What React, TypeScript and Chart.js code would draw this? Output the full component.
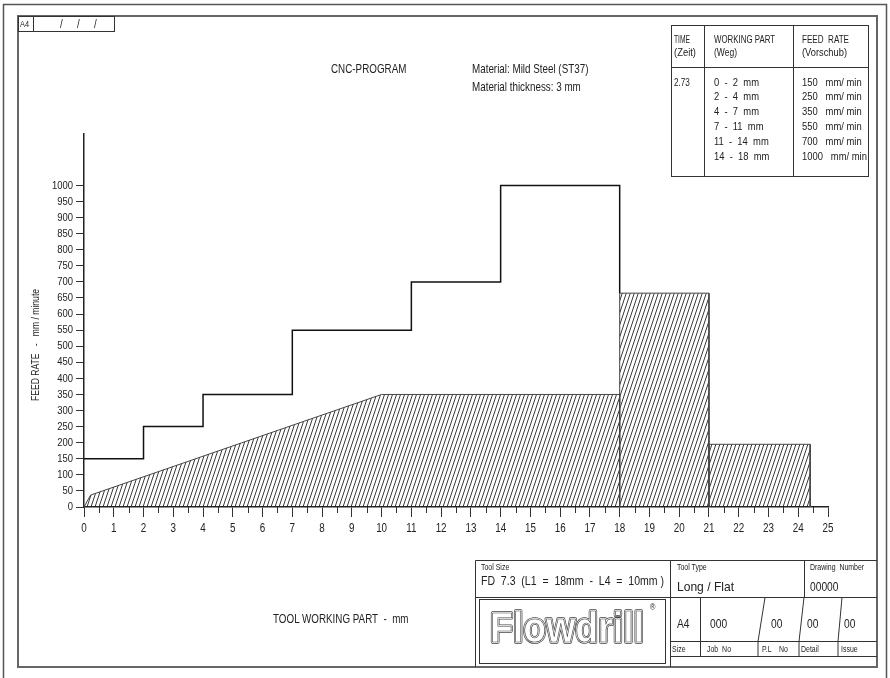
import React, { useEffect, useRef } from "react";
import { Chart, registerables } from "chart.js";

Chart.register(...registerables);

const FONT = '"Liberation Sans", Arial, sans-serif';
const NARROW = 0.82;

// CNC program: working part bounds (mm) and feed rate per part (mm/min)
const segmentBounds = [0, 2, 4, 7, 11, 14, 18];
const feedRates = [150, 250, 350, 550, 700, 1000];
const programTime = "2.73";
const stepEndY = 665;

// hatched areas
const areaAX = [0, 0.22, 10, 18, 18];
const areaAY = [0, 37, 350, 350, 0];
const areaBX = [18, 18, 21, 21];
const areaBY = [0, 665, 665, 0];
const areaCX = [21, 21, 24.4, 24.4];
const areaCY = [0, 195, 195, 0];

// axis ticks
const xTicks = [0, 1, 2, 3, 4, 5, 6, 7, 8, 9, 10, 11, 12, 13, 14, 15, 16, 17, 18, 19, 20, 21, 22, 23, 24, 25];
const yTicks = [0, 50, 100, 150, 200, 250, 300, 350, 400, 450, 500, 550, 600, 650, 700, 750, 800, 850, 900, 950, 1000];

function makeHatch(): CanvasPattern | string {
  const c = document.createElement("canvas");
  const w = 4;
  const h = 12;
  c.width = w;
  c.height = h;
  const g = c.getContext("2d");
  if (!g) return "#ccc";
  g.strokeStyle = "#222";
  g.lineWidth = 0.9;
  for (let k = -1; k <= 1; k++) {
    g.beginPath();
    g.moveTo(k * w, h);
    g.lineTo((k + 1) * w, 0);
    g.stroke();
  }
  const p = g.createPattern(c, "repeat");
  return p || "#ccc";
}

const toPts = (xs: number[], ys: number[]) => xs.map((x, i) => ({ x, y: ys[i] }));

function stepPoints() {
  const pts: { x: number; y: number }[] = [];
  feedRates.forEach((r, i) => {
    pts.push({ x: segmentBounds[i], y: r });
    pts.push({ x: segmentBounds[i + 1], y: r });
  });
  pts.push({ x: segmentBounds[segmentBounds.length - 1], y: stepEndY });
  return pts;
}

const halfTicks = {
  id: "halfTicks",
  afterDraw(chart: any) {
    const xs = chart.scales.x;
    const ctx = chart.ctx;
    const bottom = chart.chartArea.bottom;
    ctx.save();
    ctx.strokeStyle = "#333";
    ctx.lineWidth = 1;
    for (let i = 0; i < xTicks.length - 1; i++) {
      const v = (xTicks[i] + xTicks[i + 1]) / 2;
      const px = Math.round(xs.getPixelForValue(v)) + 0.5;
      ctx.beginPath();
      ctx.moveTo(px, bottom);
      ctx.lineTo(px, bottom + 6);
      ctx.stroke();
    }
    ctx.restore();
  },
};

// draw the axis tick labels in a narrow (condensed) style, like the drawing's font
const narrowLabels = {
  id: "narrowLabels",
  beforeDraw(chart: any) {
    const ctx = chart.ctx;
    if (ctx.__origFill) return;
    const orig = ctx.fillText;
    ctx.__origFill = orig;
    ctx.fillText = function (text: string, x: number, y: number) {
      this.save();
      this.translate(x, y);
      this.scale(NARROW, 1);
      orig.call(this, text, 0, 0);
      this.restore();
    };
  },
  beforeDatasetsDraw(chart: any) {
    const ctx = chart.ctx;
    if (ctx.__origFill) {
      ctx.fillText = ctx.__origFill;
      ctx.__origFill = null;
    }
  },
};

function ChartCanvas() {
  const ref = useRef<HTMLCanvasElement | null>(null);
  useEffect(() => {
    if (!ref.current) return;
    const hatch = makeHatch();
    const area = (xs: number[], ys: number[]) => ({
      type: "line" as const,
      data: toPts(xs, ys),
      fill: "origin",
      backgroundColor: hatch,
      borderColor: "#444",
      borderWidth: 1,
      pointRadius: 0,
      tension: 0,
    });
    const chart = new Chart(ref.current, {
      type: "line",
      data: {
        datasets: [
          area(areaAX, areaAY),
          area(areaBX, areaBY),
          area(areaCX, areaCY),
          {
            type: "line",
            data: stepPoints(),
            fill: false,
            borderColor: "#111",
            borderWidth: 1.5,
            pointRadius: 0,
            tension: 0,
          },
        ] as any,
      },
      options: {
        animation: false,
        responsive: false,
        maintainAspectRatio: false,
        devicePixelRatio: 1,
        layout: { padding: { left: 40, right: 62, top: 134, bottom: 141 } },
        plugins: { legend: { display: false }, tooltip: { enabled: false }, title: { display: false } },
        scales: {
          x: {
            type: "linear",
            min: 0,
            max: 25,
            afterBuildTicks: (s: any) => {
              s.ticks = xTicks.map((v) => ({ value: v }));
            },
            afterFit: (s: any) => {
              s.height = 30;
            },
            grid: { drawOnChartArea: false, drawTicks: true, tickLength: 10, color: "#333", lineWidth: 1 },
            border: { display: true, color: "#222", width: 1.5 },
            ticks: {
              padding: 4,
              color: "#222",
              maxRotation: 0,
              autoSkip: false,
              callback: (v: any) => String(v),
              font: { family: FONT, size: 12 },
            },
          },
          y: {
            type: "linear",
            min: 0,
            max: 1160,
            afterBuildTicks: (s: any) => {
              s.ticks = yTicks.map((v) => ({ value: v }));
            },
            afterFit: (s: any) => {
              s.width = 44;
            },
            grid: { drawOnChartArea: false, drawTicks: true, tickLength: 8, color: "#333", lineWidth: 1 },
            border: { display: true, color: "#222", width: 1.5 },
            ticks: {
              padding: 3,
              color: "#222",
              autoSkip: false,
              callback: (v: any) => String(v),
              font: { family: FONT, size: 11.5 },
            },
          },
        },
      } as any,
      plugins: [narrowLabels, halfTicks],
    });
    return () => chart.destroy();
  }, []);
  return <canvas ref={ref} width={890} height={678} style={{ position: "absolute", left: 0, top: 0, display: "block" }} />;
}

const L = (x1: number, y1: number, x2: number, y2: number, w = 1, c = "#333") => (
  <line x1={x1} y1={y1} x2={x2} y2={y2} stroke={c} strokeWidth={w} />
);

function T(props: { x: number; y: number; s: number; children: any; anchor?: string; w?: number; rot?: number }) {
  const common = {
    fontSize: props.s,
    fontFamily: FONT,
    fill: "#222",
    textAnchor: props.anchor || "start",
    style: { whiteSpace: "pre" as const },
  };
  if (props.w) {
    return (
      <text x={props.x} y={props.y} textLength={props.w} lengthAdjust="spacingAndGlyphs" {...common}>
        {props.children}
      </text>
    );
  }
  const rot = props.rot ? ` rotate(${props.rot})` : "";
  return (
    <text transform={`translate(${props.x},${props.y})${rot} scale(${NARROW},1)`} {...common}>
      {props.children}
    </text>
  );
}

function Overlay() {
  const rowY = [86, 100, 115, 130, 145, 160];
  return (
    <svg width={890} height={678} style={{ position: "absolute", left: 0, top: 0 }}>
      {/* drawing frame */}
      <path d="M3.5 690 V4.5 H886.5 V690" fill="none" stroke="#555" strokeWidth={1.5} />
      <rect x={18} y={16} width={859} height={651} fill="none" stroke="#666" strokeWidth={2} />
      {/* A4 corner box */}
      <rect x={18.5} y={16.5} width={96} height={15} fill="none" stroke="#333" strokeWidth={1} />
      {L(33.5, 16, 33.5, 32)}
      <T x={20} y={27} s={9}>A4</T>
      <T x={60} y={28} s={12}>/</T>
      <T x={77} y={28} s={12}>/</T>
      <T x={94} y={28} s={12}>/</T>

      {/* headings */}
      <T x={331} y={73} s={12}>CNC-PROGRAM</T>
      <T x={472} y={73} s={12}>Material: Mild Steel (ST37)</T>
      <T x={472} y={91} s={12}>Material thickness: 3 mm</T>

      {/* program table */}
      <rect x={671.5} y={25.5} width={197} height={151} fill="none" stroke="#333" strokeWidth={1} />
      {L(704.5, 25, 704.5, 177)}
      {L(793.5, 25, 793.5, 177)}
      {L(671, 67.5, 869, 67.5)}
      <T x={674} y={43} s={10} w={16}>TIME</T>
      <T x={674} y={56} s={10} w={22}>(Zeit)</T>
      <T x={714} y={43} s={10} w={61}>WORKING PART</T>
      <T x={714} y={56} s={10} w={23}>(Weg)</T>
      <T x={802} y={43} s={10} w={47}>FEED  RATE</T>
      <T x={802} y={56} s={10} w={45}>(Vorschub)</T>
      <T x={674} y={86} s={10}>{programTime}</T>
      {feedRates.map((r, i) => (
        <T key={"w" + i} x={714} y={rowY[i]} s={11.5}>{`${segmentBounds[i]}  -  ${segmentBounds[i + 1]}  mm`}</T>
      ))}
      {feedRates.map((r, i) => (
        <T key={"f" + i} x={802} y={rowY[i]} s={11.5}>{`${r}   mm/ min`}</T>
      ))}

      {/* axis titles */}
      <T x={39} y={345} s={10.5} anchor="middle" rot={-90}>FEED RATE   -   mm / minute</T>
      <T x={273} y={623} s={12}>TOOL WORKING PART  -  mm</T>

      {/* title block */}
      <path d="M475.5 667 V560.5 H877" fill="none" stroke="#333" strokeWidth={1} />
      {L(475, 597.5, 877, 597.5)}
      {L(670.5, 560, 670.5, 667)}
      {L(804.5, 560, 804.5, 597)}
      <rect x={479.5} y={599.5} width={186} height={64} fill="none" stroke="#333" strokeWidth={1} />
      {L(670, 641.5, 877, 641.5)}
      {L(670, 656.5, 877, 656.5)}
      {L(700.5, 597, 700.5, 656)}
      <path d="M765 597.5 L758 641.5 V656.5" fill="none" stroke="#333" strokeWidth={1} />
      <path d="M804 597.5 L799 641.5 V656.5" fill="none" stroke="#333" strokeWidth={1} />
      <path d="M842 597.5 L838 641.5 V656.5" fill="none" stroke="#333" strokeWidth={1} />

      <T x={481} y={570} s={8.5}>Tool Size</T>
      <T x={481} y={585} s={12.5} w={183}>FD  7.3  (L1  =  18mm  -  L4  =  10mm )</T>
      <T x={677} y={570} s={8.5}>Tool Type</T>
      <T x={677} y={591} s={13} w={57}>Long / Flat</T>
      <T x={810} y={570} s={8.5}>Drawing  Number</T>
      <T x={810} y={591} s={12.5}>00000</T>
      <T x={677} y={628} s={12.5}>A4</T>
      <T x={710} y={628} s={12.5}>000</T>
      <T x={771} y={628} s={12.5}>00</T>
      <T x={807} y={628} s={12.5}>00</T>
      <T x={844} y={628} s={12.5}>00</T>
      <T x={672} y={652} s={8.5}>Size</T>
      <T x={707} y={652} s={8.5}>Job  No</T>
      <T x={762} y={652} s={8.5}>P.L    No</T>
      <T x={801} y={652} s={8.5}>Detail</T>
      <T x={841} y={652} s={8.5}>Issue</T>

      {/* logo */}
      <g fontFamily={FONT} fontSize={42} fontWeight="bold">
        <text x={490} y={642} textLength={154} lengthAdjust="spacingAndGlyphs" fill="none" stroke="#444" strokeWidth={3.6} strokeLinejoin="round">Flowdrill</text>
        <text x={490} y={642} textLength={154} lengthAdjust="spacingAndGlyphs" fill="#fff" stroke="#fff" strokeWidth={2} strokeLinejoin="round">Flowdrill</text>
        <text x={490} y={642} textLength={154} lengthAdjust="spacingAndGlyphs" fill="#fff" stroke="#444" strokeWidth={0.7} strokeLinejoin="round">Flowdrill</text>
      </g>
      <T x={650} y={610} s={9}>®</T>
    </svg>
  );
}

export default function App() {
  return (
    <div style={{ position: "absolute", left: 0, top: 0, width: 890, height: 678, background: "#fff", overflow: "hidden" }}>
      <ChartCanvas />
      <Overlay />
    </div>
  );
}
